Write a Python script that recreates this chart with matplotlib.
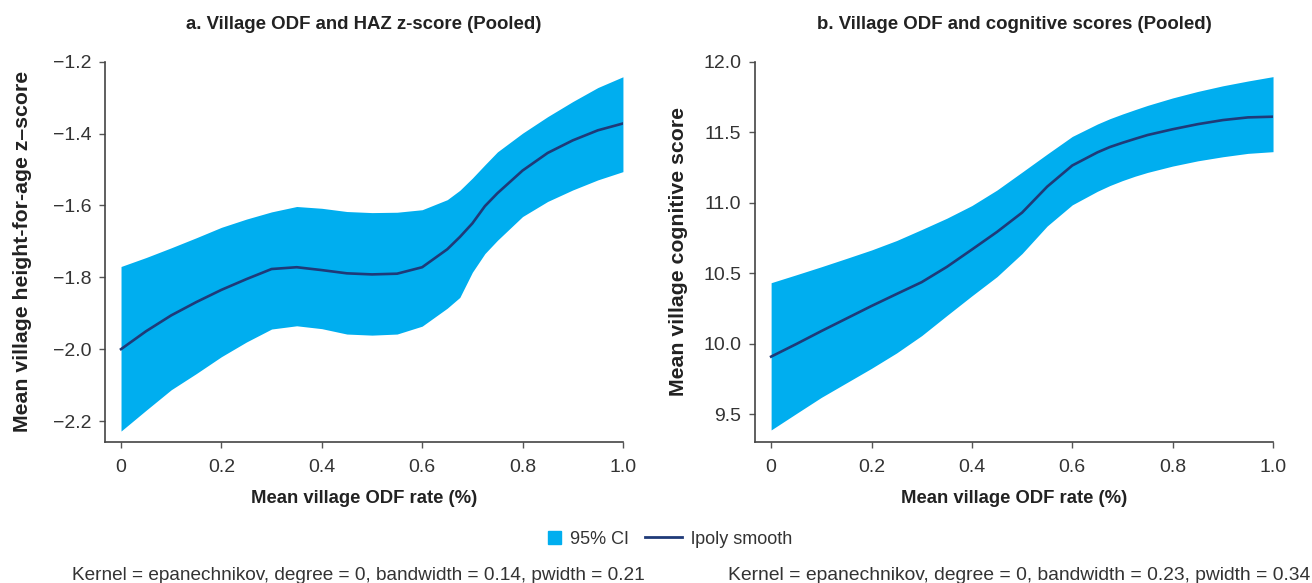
import matplotlib
matplotlib.use("Agg")
import matplotlib.pyplot as plt
from matplotlib.lines import Line2D
from matplotlib.patches import Patch, Rectangle
from matplotlib.legend_handler import HandlerPatch

plt.rcParams["font.family"] = ["Liberation Sans", "DejaVu Sans"]

CI_COLOR = "#00aeef"
LINE_COLOR = "#1f3a78"
TEXT_COLOR = "#333333"

# ODF rate grid (shared by both panels)
odf = [0.0, 0.05, 0.1, 0.15, 0.2, 0.25, 0.3, 0.35, 0.4, 0.45, 0.5, 0.55,
       0.6, 0.65, 0.675, 0.7, 0.725, 0.75, 0.8, 0.85, 0.9, 0.95, 1.0]

# panel a: HAZ z-score
haz_fit = [-2.000, -1.950, -1.906, -1.869, -1.835, -1.805, -1.777, -1.772, -1.780, -1.789, -1.792, -1.790,
           -1.772, -1.722, -1.688, -1.650, -1.602, -1.566, -1.503, -1.454, -1.419, -1.391, -1.372]
haz_hi = [-1.770, -1.745, -1.718, -1.690, -1.661, -1.638, -1.618, -1.603, -1.608, -1.617, -1.620, -1.619,
          -1.612, -1.584, -1.558, -1.524, -1.487, -1.451, -1.399, -1.353, -1.311, -1.272, -1.242]
haz_lo = [-2.228, -2.170, -2.113, -2.068, -2.021, -1.980, -1.944, -1.935, -1.943, -1.958, -1.961, -1.958,
          -1.936, -1.886, -1.856, -1.786, -1.734, -1.697, -1.631, -1.589, -1.557, -1.529, -1.506]

# panel b: cognitive score
cog_fit = [9.909, 9.998, 10.090, 10.179, 10.268, 10.353, 10.437, 10.545, 10.668, 10.793, 10.930, 11.114,
           11.264, 11.357, 11.395, 11.425, 11.453, 11.480, 11.521, 11.557, 11.586, 11.605, 11.610]
cog_hi = [10.433, 10.489, 10.546, 10.605, 10.665, 10.732, 10.810, 10.890, 10.980, 11.090, 11.217, 11.345,
          11.470, 11.558, 11.596, 11.629, 11.660, 11.690, 11.743, 11.789, 11.829, 11.863, 11.894]
cog_lo = [9.389, 9.505, 9.620, 9.723, 9.826, 9.935, 10.058, 10.200, 10.340, 10.476, 10.640, 10.835,
          10.985, 11.081, 11.122, 11.157, 11.188, 11.215, 11.260, 11.297, 11.326, 11.350, 11.362]

x_ticks = [0, 0.2, 0.4, 0.6, 0.8, 1.0]
x_labels = ["0", "0.2", "0.4", "0.6", "0.8", "1.0"]
haz_ticks = [-2.2, -2.0, -1.8, -1.6, -1.4, -1.2]
cog_ticks = [9.5, 10.0, 10.5, 11.0, 11.5, 12.0]

titles = ["a. Village ODF and HAZ z-score (Pooled)", "b. Village ODF and cognitive scores (Pooled)"]
ylabels = ["Mean village height-for-age z\u2013score", "Mean village cognitive score"]
notes = ["Kernel = epanechnikov, degree = 0, bandwidth = 0.14, pwidth = 0.21",
         "Kernel = epanechnikov, degree = 0, bandwidth = 0.23, pwidth = 0.34"]

fig = plt.figure(figsize=(13.12, 5.83), dpi=100)
ax_a = fig.add_axes([0.0800, 0.2424, 0.3948, 0.6518])
ax_b = fig.add_axes([0.5755, 0.2424, 0.3948, 0.6518])

panels = [
    (ax_a, haz_fit, haz_lo, haz_hi, haz_ticks, (-2.2575, -1.2), -0.141),
    (ax_b, cog_fit, cog_lo, cog_hi, cog_ticks, (9.306, 12.0), -0.129),
]
for i, (ax, fit, lo, hi, yt, ylim, ylab_x) in enumerate(panels):
    ax.fill_between(odf, lo, hi, color=CI_COLOR, linewidth=0)
    ax.plot(odf, fit, color=LINE_COLOR, linewidth=1.9)
    ax.set_xlim(-0.032, 1.0)
    ax.set_ylim(*ylim)
    ax.set_xticks(x_ticks, x_labels)
    ax.set_yticks(yt, ["{:.1f}".format(v).replace("-", "\u2212") for v in yt])
    for s in ["top", "right"]:
        ax.spines[s].set_visible(False)
    for s in ["left", "bottom"]:
        ax.spines[s].set_color("#444444")
        ax.spines[s].set_linewidth(1.2)
    ax.tick_params(length=4.3, width=1, color="#555555", labelcolor=TEXT_COLOR, labelsize=14)
    ax.tick_params(axis="x", pad=8.5)
    ax.tick_params(axis="y", pad=5.5)
    ax.set_title(titles[i], fontsize=13.4, fontweight="bold", color="#222222", pad=23.4)
    ax.set_ylabel(ylabels[i], fontsize=15.3, fontweight="bold", color="#222222")
    ax.yaxis.set_label_coords(ylab_x, 0.5)
    ax.set_xlabel("Mean village ODF rate (%)", fontsize=13.3, fontweight="bold", color="#222222", labelpad=10)

fig.text(72 / 1312, 1 - 576 / 583, notes[0], fontsize=13.7, color=TEXT_COLOR, va="center", ha="left")
fig.text(728 / 1312, 1 - 576 / 583, notes[1], fontsize=13.9, color=TEXT_COLOR, va="center", ha="left")


def square_patch(legend, orig_handle, xdescent, ydescent, width, height, fontsize):
    s = 0.72 * fontsize
    return Rectangle((width - s - xdescent, -ydescent + (height - s) / 2), s, s)


handles = [Patch(color=CI_COLOR, label="95% CI"),
           Line2D([], [], color=LINE_COLOR, linewidth=2, label="lpoly smooth")]
fig.legend(handles=handles, loc="center", bbox_to_anchor=(0.5015, 1 - 539 / 583), ncol=2, frameon=False,
           fontsize=13, handlelength=2.05, handletextpad=0.5, columnspacing=0.9,
           handler_map={Patch: HandlerPatch(patch_func=square_patch)}, labelcolor=TEXT_COLOR)

fig.savefig("out.png", dpi=100)
